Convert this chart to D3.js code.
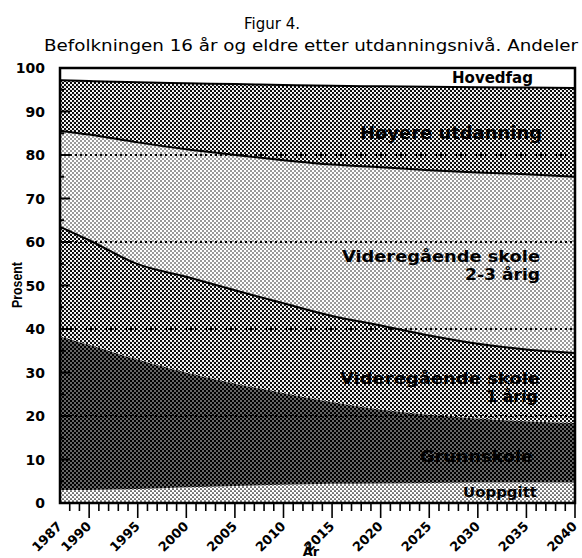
<!DOCTYPE html>
<html>
<head>
<meta charset="utf-8">
<script src="https://cdn.jsdelivr.net/npm/d3@7"></script>
<style>
  body { margin: 0; background: #fff; }
  svg { display: block; }
</style>
</head>
<body>
<div id="chart"></div>
<script>
// data (shares in percent, bottom to top)
var years = [1987, 1990, 1995, 2000, 2005, 2010, 2015, 2020, 2025, 2030, 2035, 2040];
var uoppgitt   = [3.0, 3.0, 3.2, 3.6, 3.9, 4.2, 4.4, 4.5, 4.6, 4.7, 4.7, 4.7];
var grunnskole = [35.3, 33.4, 29.8, 26.4, 23.6, 21.1, 18.8, 17.0, 15.7, 14.7, 14.1, 13.7];
var vgs1       = [25.2, 24.0, 21.9, 22.0, 21.4, 20.6, 19.8, 19.3, 18.2, 17.2, 16.5, 16.1];
var vgs23      = [22.1, 24.3, 28.0, 29.3, 31.1, 32.9, 34.8, 36.4, 38.0, 39.4, 40.3, 40.5];
var hoyere     = [11.6, 12.3, 13.8, 15.2, 16.3, 17.3, 18.1, 18.6, 19.2, 19.6, 19.9, 20.4];
var hovedfag   = [2.8, 3.0, 3.3, 3.5, 3.7, 3.9, 4.1, 4.2, 4.3, 4.4, 4.5, 4.6];

var keys = ["Uoppgitt", "Grunnskole", "Vgs1", "Vgs23", "Hoyere", "Hovedfag"];
var yTicks = [0, 10, 20, 30, 40, 50, 60, 70, 80, 90, 100];
var xTickLabels = [1987, 1990, 1995, 2000, 2005, 2010, 2015, 2020, 2025, 2030, 2035, 2040];
var gridValues = [20, 40, 60, 80];

var table = years.map(function(yr, i) {
  return {
    year: yr,
    Uoppgitt: uoppgitt[i],
    Grunnskole: grunnskole[i],
    Vgs1: vgs1[i],
    Vgs23: vgs23[i],
    Hoyere: hoyere[i],
    Hovedfag: hovedfag[i]
  };
});

var svgWidth = 582, svgHeight = 558;
var margin = { top: 68, right: 7, bottom: 55, left: 60 };
var width = svgWidth - margin.left - margin.right;
var height = svgHeight - margin.top - margin.bottom;

var svg = d3.select("#chart").append("svg")
  .attr("width", svgWidth)
  .attr("height", svgHeight);

// halftone-like patterns
var defs = svg.append("defs");
function dotPattern(id, bg, fg, r) {
  var p = defs.append("pattern").attr("id", id)
    .attr("patternUnits", "userSpaceOnUse").attr("width", 4).attr("height", 4);
  p.append("rect").attr("width", 4).attr("height", 4).attr("fill", bg);
  [[1, 1], [3, 3]].forEach(function(c) {
    p.append("circle").attr("cx", c[0]).attr("cy", c[1]).attr("r", r).attr("fill", fg);
  });
}
dotPattern("p-light", "#fff", "#000", 0.75);
dotPattern("p-uopp", "#fff", "#000", 0.85);
dotPattern("p-dark", "#000", "#fff", 0.75);
dotPattern("p-mid", "#fff", "#000", 1.15);

var fills = {
  Uoppgitt: "url(#p-uopp)",
  Grunnskole: "url(#p-dark)",
  Vgs1: "url(#p-mid)",
  Vgs23: "url(#p-light)",
  Hoyere: "url(#p-mid)",
  Hovedfag: "#fff"
};

var x = d3.scaleLinear().domain([1987, 2040]).range([0, width]);
var y = d3.scaleLinear().domain([0, 100]).range([height, 0]);

var chartGroup = svg.append("g")
  .attr("transform", `translate(${margin.left}, ${margin.top})`);

var series = d3.stack().keys(keys)(table);

var area = d3.area()
  .x(d => x(d.data.year))
  .y0(d => y(d[0]))
  .y1(d => y(d[1]))
  .curve(d3.curveMonotoneX);

chartGroup.selectAll(".layer")
  .data(series)
  .enter()
  .append("path")
  .attr("class", "layer")
  .attr("d", area)
  .attr("fill", d => fills[d.key]);

// dotted grid lines
chartGroup.selectAll(".grid")
  .data(gridValues)
  .enter()
  .append("line")
  .attr("x1", 0).attr("x2", width)
  .attr("y1", d => y(d)).attr("y2", d => y(d))
  .attr("stroke", "#000")
  .attr("stroke-width", 1.8)
  .attr("stroke-dasharray", "2,3");

// boundary lines on top of the upper layers
var topLine = d3.line()
  .x(d => x(d.data.year))
  .y(d => y(d[1]))
  .curve(d3.curveMonotoneX);

chartGroup.selectAll(".edge")
  .data(series.filter(s => s.key == "Vgs1" || s.key == "Vgs23" || s.key == "Hoyere"))
  .enter()
  .append("path")
  .attr("d", topLine)
  .attr("fill", "none")
  .attr("stroke", "#000")
  .attr("stroke-width", 2);

// y ticks (inside) every 5
var yMinor = d3.range(5, 100, 5);
chartGroup.selectAll(".ytick")
  .data(yMinor)
  .enter()
  .append("line")
  .attr("x1", 0)
  .attr("x2", d => d % 10 == 0 ? 10 : 4)
  .attr("y1", d => y(d)).attr("y2", d => y(d))
  .attr("stroke", "#000").attr("stroke-width", 2);

chartGroup.selectAll(".ylab")
  .data(yTicks)
  .enter()
  .append("text")
  .attr("x", -15)
  .attr("y", d => y(d))
  .attr("dy", "0.36em")
  .attr("text-anchor", "end")
  .style("font", "bold 14px 'DejaVu Sans'")
  .text(d => d);

// x ticks every year, long every 5
var xMinor = d3.range(1988, 2041);
chartGroup.selectAll(".xtick")
  .data(xMinor)
  .enter()
  .append("line")
  .attr("x1", d => x(d)).attr("x2", d => x(d))
  .attr("y1", height)
  .attr("y2", d => height + (d % 5 == 0 ? 15 : 8))
  .attr("stroke", "#000").attr("stroke-width", 1.6);

chartGroup.selectAll(".xlab")
  .data(xTickLabels)
  .enter()
  .append("text")
  .attr("text-anchor", "end")
  .attr("transform", d => `translate(${x(d) + 3}, ${height + 24}) rotate(-45)`)
  .style("font", "bold 13px 'DejaVu Sans'")
  .text(d => d);

// frame
chartGroup.append("rect")
  .attr("width", width).attr("height", height)
  .attr("fill", "none")
  .attr("stroke", "#000")
  .attr("stroke-width", 2.5);

// labels in the layers
var labels = [
  { t: "Hovedfag", x: 533, y: 83, s: 15, w: 81 },
  { t: "Høyere utdanning", x: 542, y: 139, s: 17.5, w: 182 },
  { t: "Videregående skole", x: 540, y: 262, s: 16.5, w: 198 },
  { t: "2-3 årig", x: 540, y: 280, s: 16.5, w: 75 },
  { t: "Videregående skole", x: 540, y: 384, s: 16.5, w: 200 },
  { t: "1 årig", x: 538, y: 402, s: 16.5, w: 52 },
  { t: "Grunnskole", x: 533, y: 462, s: 15, w: 113 },
  { t: "Uoppgitt", x: 537, y: 497, s: 14, w: 74 }
];
svg.selectAll(".lab")
  .data(labels)
  .enter()
  .append("text")
  .attr("x", d => d.x - d.w)
  .attr("y", d => d.y)
  .attr("textLength", d => d.w)
  .attr("lengthAdjust", "spacingAndGlyphs")
  .style("font", d => `bold ${d.s}px 'DejaVu Sans'`)
  .text(d => d.t);

// titles
svg.append("text")
  .attr("x", 272).attr("y", 29)
  .attr("text-anchor", "middle")
  .style("font", "15px 'DejaVu Sans'")
  .text("Figur 4.");

svg.append("text")
  .attr("x", 44).attr("y", 51)
  .attr("textLength", 534)
  .attr("lengthAdjust", "spacingAndGlyphs")
  .style("font", "15px 'DejaVu Sans'")
  .text("Befolkningen 16 år og eldre etter utdanningsnivå. Andeler");

// axis titles
svg.append("text")
  .attr("transform", "translate(22, 285) rotate(-90)")
  .attr("text-anchor", "middle")
  .attr("textLength", 46)
  .attr("lengthAdjust", "spacingAndGlyphs")
  .style("font", "bold 14.5px 'Liberation Sans'")
  .text("Prosent");

svg.append("text")
  .attr("x", 311).attr("y", 556)
  .attr("text-anchor", "middle")
  .style("font", "bold 13px 'DejaVu Sans'")
  .text("År");
</script>
</body>
</html>
